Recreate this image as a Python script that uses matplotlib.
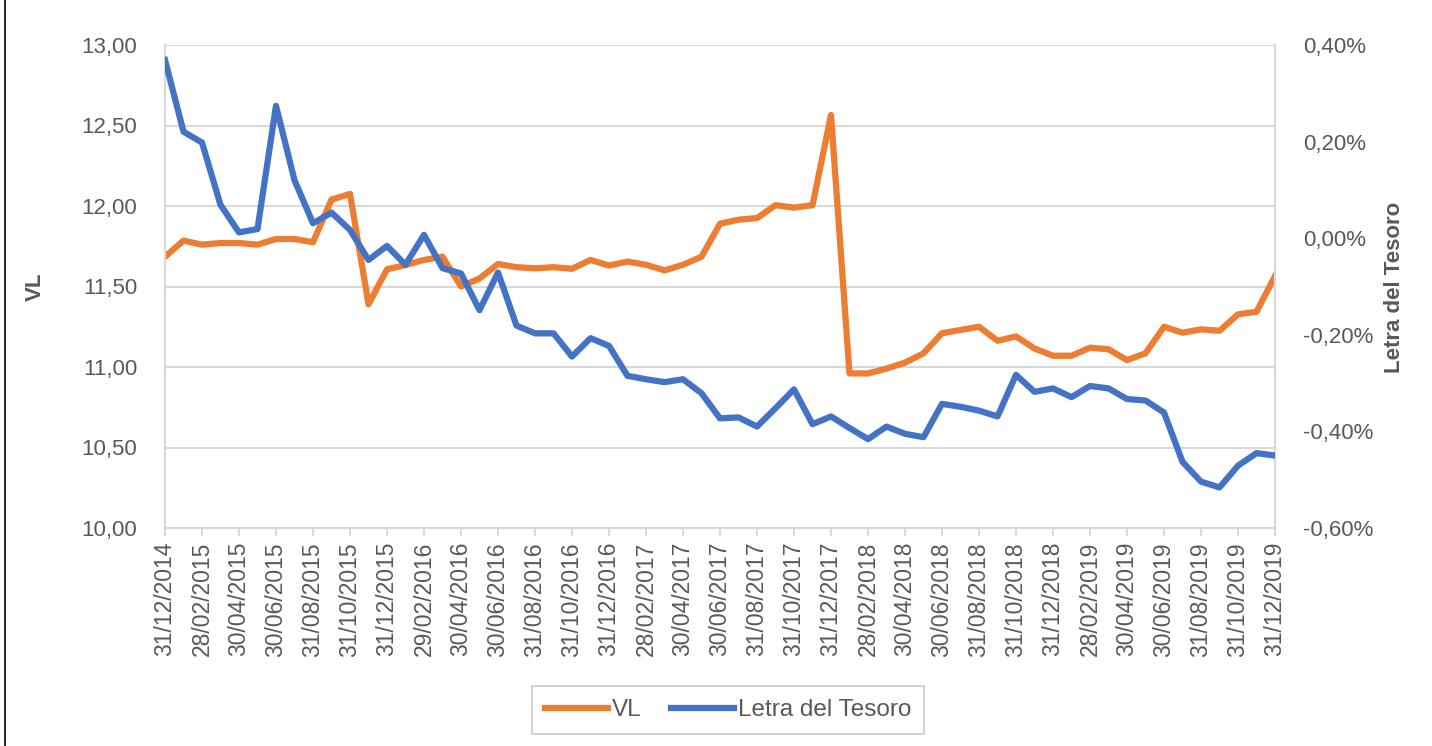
import numpy as np
import pandas as pd
import matplotlib
matplotlib.use("Agg")
import matplotlib.pyplot as plt
from matplotlib.ticker import FuncFormatter, FixedLocator
from matplotlib.lines import Line2D

plt.rcParams['font.family'] = ['Liberation Sans', 'DejaVu Sans']

# fechas fin de mes, 31/12/2014 .. 31/12/2019
fechas = pd.date_range('2014-12-31', periods=61, freq='ME')

vl = [11.685, 11.785, 11.76, 11.77, 11.77, 11.76, 11.795, 11.795, 11.775, 12.04,
      12.075, 11.39, 11.607, 11.633, 11.665, 11.685, 11.50, 11.55, 11.64, 11.62,
      11.613, 11.62, 11.61, 11.665, 11.63, 11.655, 11.635, 11.60, 11.635, 11.685,
      11.89, 11.915, 11.925, 12.005, 11.99, 12.005, 12.565, 10.96, 10.96, 10.99,
      11.027, 11.085, 11.21, 11.23, 11.25, 11.163, 11.19, 11.115, 11.07, 11.07,
      11.12, 11.11, 11.043, 11.085, 11.25, 11.213, 11.234, 11.225, 11.327, 11.343,
      11.565]

letra = [0.369, 0.2205, 0.198, 0.069, 0.012, 0.019, 0.274, 0.120, 0.031, 0.053,
         0.017, -0.045, -0.016, -0.055, 0.007, -0.062, -0.073, -0.149, -0.071, -0.181,
         -0.197, -0.197, -0.245, -0.207, -0.223, -0.285, -0.292, -0.298, -0.292, -0.321,
         -0.373, -0.371, -0.390, -0.352, -0.313, -0.385, -0.369, -0.393, -0.416, -0.390,
         -0.405, -0.412, -0.343, -0.349, -0.357, -0.369, -0.283, -0.318, -0.311, -0.329,
         -0.306, -0.311, -0.333, -0.336, -0.361, -0.463, -0.504, -0.516, -0.471, -0.445,
         -0.450]

naranja = '#ED7D31'
azul = '#4472C4'
gris = '#595959'
rejilla = '#D9D9D9'

x = np.arange(len(fechas))

fig = plt.figure(figsize=(14.32, 7.46), dpi=100)
ax = fig.add_axes([165/1432, 1-528/746, 1110/1432, 483/746])
ax2 = ax.twinx()

l1, = ax.plot(x, vl, color=naranja, lw=4.5, solid_joinstyle='round', label='VL', zorder=3)
l2, = ax2.plot(x, letra, color=azul, lw=4.5, solid_joinstyle='round', label='Letra del Tesoro', zorder=3)

ax.set_xlim(0, 60)
ax.set_ylim(10, 13)
ax2.set_ylim(-0.6, 0.4)
ax.set_yticks(np.arange(10, 13.01, 0.5))
ax2.set_yticks(np.arange(-0.6, 0.41, 0.2))
ax.yaxis.set_major_formatter(FuncFormatter(lambda v, p: f'{v:.2f}'.replace('.', ',')))
ax2.yaxis.set_major_formatter(FuncFormatter(lambda v, p: f'{v:.2f}%'.replace('.', ',').replace('-0,00', '0,00')))

ax.xaxis.set_major_locator(FixedLocator(x[::2]))
ax.set_xticklabels([f.strftime('%d/%m/%Y') for f in fechas[::2]], rotation=90,
                   fontsize=16.5, color=gris)
ax.tick_params(axis='x', length=6, width=1.5, color=rejilla, pad=4)
ax.tick_params(axis='y', length=0, labelsize=16, labelcolor=gris, pad=20)
ax2.tick_params(axis='y', length=0, labelsize=16, labelcolor=gris, pad=20)

ax.grid(axis='y', color=rejilla, lw=1.5)
ax.set_axisbelow(True)
for a in (ax, ax2):
    a.spines['top'].set_visible(False)
    for s in ('left', 'right', 'bottom'):
        a.spines[s].set_color(rejilla)
        a.spines[s].set_linewidth(1.5)
ax2.patch.set_visible(False)

fig.text(35/1432, 1-287/746, 'VL', rotation=90, fontsize=16, fontweight='bold',
         color=gris, ha='center', va='center')
fig.text(1395/1432, 1-287/746, 'Letra del Tesoro', rotation=90, fontsize=16,
         fontweight='bold', color=gris, ha='center', va='center')

leg = fig.legend([l1, l2], ['VL', 'Letra del Tesoro'], loc='center',
                 bbox_to_anchor=(728/1432, 1-710/746), ncol=2, fontsize=17.5,
                 frameon=True, fancybox=False, handlelength=2.6, handletextpad=0.15,
                 columnspacing=1.2, borderpad=0.55, borderaxespad=0)
leg.get_frame().set_edgecolor('#BFBFBF')
leg.get_frame().set_linewidth(1.2)
for t in leg.get_texts():
    t.set_color(gris)

fig.add_artist(Line2D([5/1432, 5/1432], [0, 1], color='black', lw=1.2))

fig.savefig('out.png', dpi=100)
